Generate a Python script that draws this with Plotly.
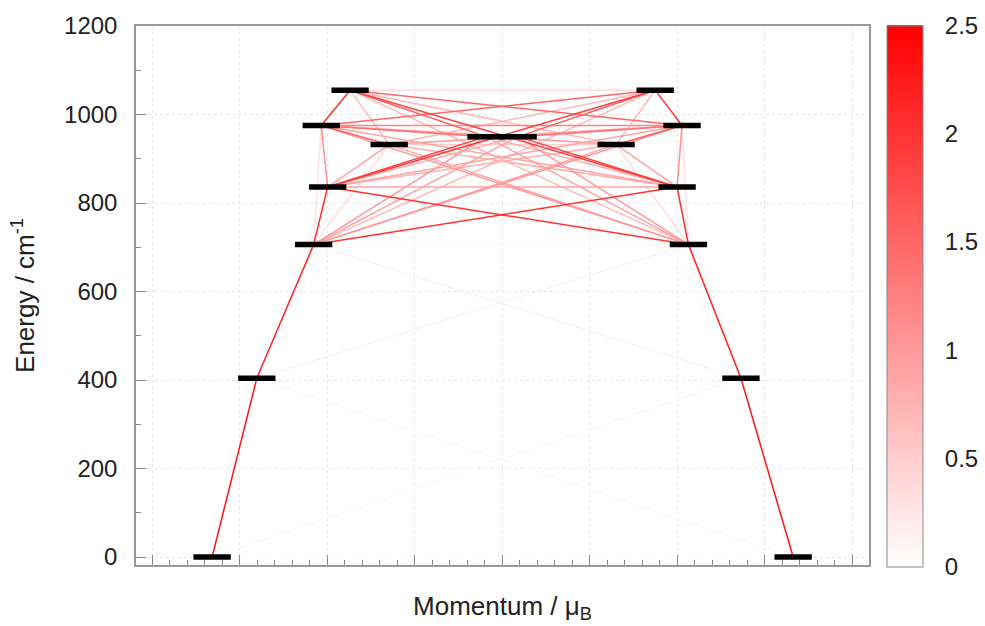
import plotly.graph_objects as go

# ---------------- data ----------------
# energy of each Kramers doublet (cm^-1)
ENERGY = [0, 404, 706, 836, 932, 950, 975, 1055]
# magnetic moment of the two components (mu_B)
MOMENT_LEFT = [-9.94, -8.41, -6.46, -5.98, -3.87, -0.55, -6.20, -5.21]
MOMENT_RIGHT = [9.98, 8.19, 6.39, 6.00, 3.91, 0.55, 6.17, 5.25]

# transitions between states on the same side (applied to both sides)
SAME_FROM = [0, 1, 2, 3, 6, 2, 3, 4, 2, 3, 5, 5, 4, 2, 1, 1]
SAME_TO = [1, 2, 3, 6, 7, 4, 4, 6, 5, 5, 6, 7, 7, 6, 3, 4]
SAME_VAL = [2.3, 2.2, 2.1, 1.1, 2.0, 0.35, 0.9, 1.6, 1.0, 1.9, 1.4, 1.6, 0.7, 0.3, 0.08, 0.05]

# transitions across (left i -> right j, mirrored left j -> right i)
CROSS_FROM = [0, 0, 1, 1, 2, 2, 2, 2, 2, 2, 3, 3, 3, 3, 3, 4, 4, 4, 4, 5, 6, 6, 6, 7]
CROSS_TO = [0, 1, 1, 2, 2, 3, 4, 5, 6, 7, 3, 4, 5, 6, 7, 4, 5, 6, 7, 5, 6, 7, 5, 7]
CROSS_VAL = [0.02, 0.08, 0.06, 0.15, 0.08, 2.0, 0.9, 0.9, 1.0, 0.7, 0.9, 0.8, 0.8, 0.9, 1.9,
             0.5, 0.5, 0.9, 0.7, 0.4, 1.2, 1.5, 0.9, 0.35]

CB_TICKS = [0, 0.5, 1, 1.5, 2, 2.5]
Y_TICKS = [0, 200, 400, 600, 800, 1000, 1200]

CMAX = 2.5
BAR_HALF = 0.64

# ---------------- layout geometry (px) ----------------
W, H = 985, 626
L, R, T, B = 136, 116, 26, 61
PW, PH = W - L - R, H - T - B
CB_X0, CB_X1 = 887, 923
CB_TOP, CB_BOT = 25.5, 566


def colour(v):
    g = int(round(255 * (1 - min(v, CMAX) / CMAX)))
    return f"rgb(255,{g},{g})"


def px_to_paper_x(px):
    return (px - L) / PW


def px_to_paper_y(py):
    return 1 - (py - T) / PH


lines = []
for a, b, v in zip(SAME_FROM, SAME_TO, SAME_VAL):
    lines.append((MOMENT_LEFT[a], ENERGY[a], MOMENT_LEFT[b], ENERGY[b], v))
    lines.append((MOMENT_RIGHT[a], ENERGY[a], MOMENT_RIGHT[b], ENERGY[b], v))
for a, b, v in zip(CROSS_FROM, CROSS_TO, CROSS_VAL):
    lines.append((MOMENT_LEFT[a], ENERGY[a], MOMENT_RIGHT[b], ENERGY[b], v))
    if a != b:
        lines.append((MOMENT_LEFT[b], ENERGY[b], MOMENT_RIGHT[a], ENERGY[a], v))
lines.sort(key=lambda t: t[4])

fig = go.Figure()
for x0, y0, x1, y1, v in lines:
    fig.add_trace(go.Scatter(x=[x0, x1], y=[y0, y1], mode="lines",
                             line=dict(color=colour(v), width=1.5),
                             hoverinfo="skip", showlegend=False))

# level bars
for side in (MOMENT_LEFT, MOMENT_RIGHT):
    for m, e in zip(side, ENERGY):
        fig.add_trace(go.Scatter(x=[m - BAR_HALF, m + BAR_HALF], y=[e, e], mode="lines",
                                 line=dict(color="black", width=5.5),
                                 hoverinfo="skip", showlegend=False))

# colour bar carrier
fig.add_trace(go.Scatter(
    x=[0], y=[-500], mode="markers", showlegend=False, hoverinfo="skip",
    marker=dict(size=1, color=[0], cmin=0, cmax=CMAX,
                colorscale=[[0, "white"], [1, "red"]], showscale=True,
                colorbar=dict(
                    thickness=CB_X1 - CB_X0, thicknessmode="pixels",
                    len=(CB_BOT - CB_TOP) / PH, lenmode="fraction",
                    x=px_to_paper_x(CB_X0), xanchor="left", xpad=0,
                    y=px_to_paper_y(CB_TOP), yanchor="top", ypad=0,
                    outlinecolor="#888", outlinewidth=1,
                    tickvals=CB_TICKS, ticktext=[f"{t:g}" for t in CB_TICKS],
                    ticks="outside", ticklen=17, tickcolor="rgba(255,255,255,0)",
                    tickfont=dict(family="Liberation Sans", size=24, color="#222"),
                ))))

shapes = []
for t in CB_TICKS[1:-1]:
    py = CB_BOT - t / CMAX * (CB_BOT - CB_TOP)
    yp = px_to_paper_y(py)
    for xa, xb in ((CB_X0, CB_X0 + 11), (CB_X1 - 11, CB_X1)):
        shapes.append(dict(type="line", xref="paper", yref="paper",
                           x0=px_to_paper_x(xa), x1=px_to_paper_x(xb), y0=yp, y1=yp,
                           line=dict(color="#555", width=1)))

axis_common = dict(showline=True, linecolor="#999", linewidth=1.5, mirror=True,
                   showgrid=True, gridcolor="#e6e6e6", griddash="dot", gridwidth=1,
                   zeroline=False, ticks="inside", ticklen=10, tickcolor="#888")

fig.update_layout(
    width=W, height=H, margin=dict(l=L, r=R, t=T, b=B, autoexpand=False),
    paper_bgcolor="white", plot_bgcolor="white",
    font=dict(family="Liberation Sans", size=24, color="#222"),
    shapes=shapes,
    xaxis=dict(range=[-12.55, 12.58], tick0=0, dtick=3, showticklabels=False,
               minor=dict(dtick=0.6, ticks="inside", ticklen=5, tickcolor="#888", showgrid=False),
               title=dict(text="Momentum / μ<sub>B</sub>", standoff=31,
                          font=dict(size=26)),
               **axis_common),
    yaxis=dict(range=[-18, 1200], tickvals=Y_TICKS, ticklabelstandoff=12,
               minor=dict(dtick=100, ticks="inside", ticklen=5, tickcolor="#888", showgrid=False),
               title=dict(text="Energy / cm<sup>-1</sup>", standoff=22,
                          font=dict(size=26)),
               **axis_common),
)

fig.write_html("out.html")
